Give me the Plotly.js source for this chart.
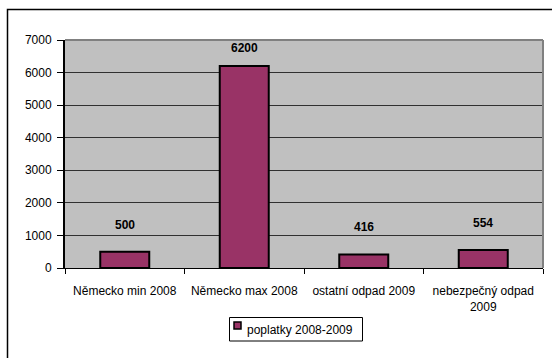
<!DOCTYPE html>
<html>
<head>
<meta charset="utf-8">
<script src="https://cdn.plot.ly/plotly-3.0.1.min.js"></script>
<style>
  html, body { margin: 0; padding: 0; background: #ffffff; }
  #chart { width: 552px; height: 358px; }
</style>
</head>
<body>
<div id="chart"></div>
<script>
// Poplatky za odpad: kategorie a hodnoty
const categories = ["Německo min 2008", "Německo max 2008", "ostatní odpad 2009", "nebezpečný odpad<br>2009"];
const values = [500, 6200, 416, 554];
const seriesName = "poplatky 2008-2009";
const yTicks = [0, 1000, 2000, 3000, 4000, 5000, 6000, 7000];

const W = 552, H = 358;
const margin = { l: 65, r: 9, t: 40, b: 90 };
const pw = W - margin.l - margin.r, ph = H - margin.t - margin.b;
// pixel -> paper coordinate helpers (frame and legend box)
const px = x => (x - margin.l) / pw;
const py = y => 1 - (y - margin.t) / ph;

const barColor = "#993366";
const FONT = "Liberation Sans, Arial, sans-serif";

const trace = {
  type: "bar",
  x: categories,
  y: values,
  name: seriesName,
  marker: { color: barColor, line: { color: "#000000", width: 2 } },
  width: 0.41,
  showlegend: false,
  hoverinfo: "x+y"
};

// value labels above each bar
const labelLift = values.map(v => v > 3000 ? 18 : 27);
const annotations = categories.map((c, i) => ({
  x: c, y: values[i], xref: "x", yref: "y",
  text: "<b>" + values[i] + "</b>",
  showarrow: false, yshift: labelLift[i], yanchor: "middle",
  font: { family: FONT, size: 12, color: "#000" }
}));

// legend entry text
annotations.push({
  xref: "paper", yref: "paper", x: px(245), y: py(329.5),
  xanchor: "left", yanchor: "middle", showarrow: false,
  text: seriesName, font: { family: FONT, size: 12, color: "#000" }
});

const layout = {
  width: W, height: H,
  margin: margin,
  paper_bgcolor: "#ffffff",
  plot_bgcolor: "#c0c0c0",
  font: { family: FONT, size: 12, color: "#000" },
  bargap: 0.59,
  showlegend: false,
  xaxis: {
    type: "category",
    showline: true, linecolor: "#000", linewidth: 1,
    ticks: "outside", ticklen: 5, tickcolor: "#000", tickson: "boundaries",
    ticklabelstandoff: 12,
    showgrid: false, zeroline: false,
    tickfont: { size: 12 }
  },
  yaxis: {
    range: [0, 7000],
    tickvals: yTicks,
    showline: true, linecolor: "#000", linewidth: 2,
    ticks: "outside", ticklen: 6, tickcolor: "#000",
    ticklabelstandoff: 3,
    showgrid: true, gridcolor: "#303030", gridwidth: 1,
    zeroline: false,
    tickfont: { size: 12 }
  },
  annotations: annotations,
  shapes: [
    // plot area border (top and right in gray)
    { type: "line", xref: "paper", yref: "paper", x0: 0, x1: 1, y0: 1, y1: 1,
      line: { color: "#808080", width: 2 } },
    { type: "line", xref: "paper", yref: "paper", x0: 1, x1: 1, y0: 0, y1: 1,
      line: { color: "#808080", width: 2 } },
    // chart frame
    { type: "rect", xref: "paper", yref: "paper",
      x0: px(7.5), x1: px(560), y0: py(9.5), y1: py(370),
      line: { color: "#000", width: 1.5 }, fillcolor: "rgba(0,0,0,0)", layer: "below" },
    // legend box and swatch
    { type: "rect", xref: "paper", yref: "paper",
      x0: px(229.5), x1: px(362.5), y0: py(317.5), y1: py(341),
      line: { color: "#000", width: 1 }, fillcolor: "#ffffff" },
    { type: "rect", xref: "paper", yref: "paper",
      x0: px(234), x1: px(241), y0: py(322), y1: py(329),
      line: { color: "#000", width: 1.5 }, fillcolor: barColor }
  ]
};

Plotly.newPlot("chart", [trace], layout, { displayModeBar: false, staticPlot: true });
</script>
</body>
</html>
